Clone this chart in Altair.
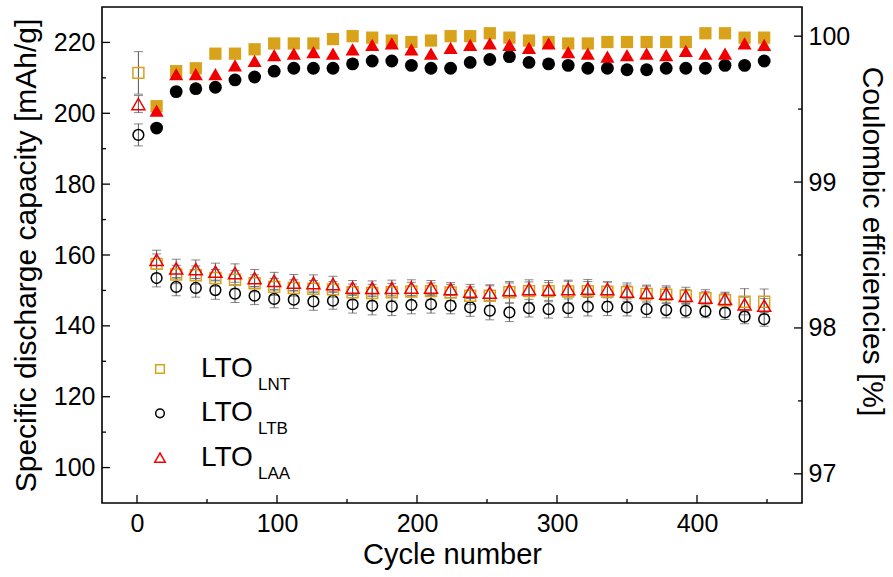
import altair as alt
import pandas as pd

# ---------------- data ----------------
cycles = [14, 28, 42, 56, 70, 84, 98, 112, 126, 140, 154, 168, 182, 196, 210, 224,
          238, 252, 266, 280, 294, 308, 322, 336, 350, 364, 378, 392, 406, 420, 434, 448]
first_cycle = [1]

# capacity (open markers, left axis), first value = cycle 1
cap_lnt = [211.4, 157.5, 154.5, 154.3, 153.5, 153.0, 152.0, 151.0, 150.7, 150.5, 150.3,
           149.5, 149.3, 149.5, 149.7, 149.8, 149.4, 148.5, 148.5, 149.5, 149.8, 149.8,
           149.7, 149.8, 149.6, 149.5, 149.0, 148.8, 148.5, 147.8, 147.2, 146.8, 146.8]
err_lnt = [6.0, 2.8, 2.6, 2.6, 2.4, 2.6, 2.4, 2.4, 2.3, 2.3, 2.2, 2.3, 2.4, 2.5, 2.6, 2.3,
           2.3, 2.5, 2.8, 3.0, 3.2, 3.0, 3.2, 3.3, 2.8, 2.6, 2.5, 2.5, 2.4, 2.4, 2.3, 3.7, 3.6]

cap_ltb = [193.9, 153.5, 151.0, 150.7, 150.1, 149.1, 148.5, 147.6, 147.4, 146.9, 147.1,
           146.1, 145.7, 145.5, 145.9, 146.1, 145.7, 145.2, 144.3, 143.8, 145.0, 144.7,
           145.0, 145.4, 145.4, 145.2, 144.7, 144.45, 144.3, 144.1, 143.8, 142.6, 141.9]
err_ltb = [3.1, 2.5, 2.5, 2.6, 2.6, 2.5, 2.5, 2.5, 2.5, 2.5, 2.4, 2.5, 2.6, 2.6, 2.5, 2.5,
           2.3, 2.5, 2.6, 2.6, 2.5, 2.5, 2.6, 2.6, 2.5, 2.4, 2.3, 2.2, 2.0, 1.8, 2.0, 2.0, 2.0]

cap_laa = [202.6, 158.65, 156.2, 156.0, 155.3, 154.9, 153.5, 152.7, 152.2, 152.1, 151.8,
           150.8, 150.7, 150.7, 150.8, 150.8, 150.4, 149.7, 149.4, 150.1, 150.4, 150.2,
           150.4, 150.5, 150.4, 149.7, 149.4, 149.1, 148.5, 148.0, 147.6, 146.1, 145.7]
err_laa = [2.4, 2.7, 2.6, 2.6, 2.4, 2.6, 2.4, 2.4, 2.3, 2.3, 2.2, 2.0, 2.0, 2.2, 2.2, 2.0,
           1.8, 2.0, 2.2, 2.0, 2.0, 2.0, 2.2, 2.0, 2.0, 1.8, 1.8, 1.8, 1.8, 1.6, 1.6, 2.0, 2.0]

# coulombic efficiency (filled markers, right axis)
ce_lnt = [99.52, 99.76, 99.78, 99.88, 99.88, 99.91, 99.95, 99.95, 99.95, 99.98, 100.00,
          99.99, 99.97, 99.96, 99.97, 100.00, 100.00, 100.02, 99.99, 99.97, 99.96, 99.95,
          99.95, 99.96, 99.96, 99.96, 99.96, 99.96, 100.02, 100.02, 99.99, 99.99]
ce_ltb = [99.37, 99.62, 99.64, 99.65, 99.70, 99.72, 99.76, 99.78, 99.78, 99.78, 99.81,
          99.83, 99.83, 99.80, 99.78, 99.78, 99.82, 99.84, 99.86, 99.82, 99.81, 99.80,
          99.78, 99.78, 99.77, 99.77, 99.78, 99.78, 99.78, 99.80, 99.80, 99.83]
ce_laa = [99.49, 99.74, 99.74, 99.74, 99.80, 99.83, 99.87, 99.88, 99.89, 99.88, 99.91,
          99.94, 99.95, 99.91, 99.88, 99.92, 99.94, 99.95, 99.94, 99.92, 99.95, 99.89,
          99.88, 99.86, 99.87, 99.88, 99.87, 99.90, 99.88, 99.88, 99.95, 99.94]

legend_main = ["LTO", "LTO", "LTO"]
legend_sub = ["LNT", "LTB", "LAA"]

x_major = [0, 100, 200, 300, 400]
x_minor = [50, 150, 250, 350, 450]
cap_major = [100, 120, 140, 160, 180, 200, 220]
cap_minor = [110, 130, 150, 170, 190, 210]
ce_major = [97, 98, 99, 100]
ce_minor = [97.5, 98.5, 99.5]

# ---------------- style ----------------
W, H = 700, 496
FONT = "Liberation Sans"
GOLD = "#D9A21B"
RED = "#F00000"
BLACK = "#000000"
ERR = "#555555"

x_scale = alt.Scale(domain=[-25, 475], nice=False, zero=False)
cap_scale = alt.Scale(domain=[90, 230], nice=False, zero=False)
ce_scale = alt.Scale(domain=[96.8, 100.2], nice=False, zero=False)

common_axis = dict(ticks=False, domain=False, grid=False, labelFontSize=25,
                   labelColor="black", titleColor="black",
                   labelFont=FONT, titleFont=FONT, titleFontWeight="normal")
x_axis = alt.Axis(title="Cycle number", values=x_major, labelPadding=8,
                  titlePadding=4, titleFontSize=29, **common_axis)
cap_axis = alt.Axis(title="Specific discharge capacity [mAh/g]", values=cap_major,
                    labelPadding=7, titlePadding=12, titleFontSize=30, **common_axis)
ce_axis = alt.Axis(title="Coulombic efficiencies [%]", values=ce_major, orient="right",
                   labelPadding=6, titlePadding=7, titleFontSize=30, titleY=234,
                   **common_axis)

X = lambda f: alt.X(f, type="quantitative", scale=x_scale, axis=x_axis)
YC = lambda f: alt.Y(f, type="quantitative", scale=cap_scale, axis=cap_axis)
YE = lambda f: alt.Y(f, type="quantitative", scale=ce_scale, axis=ce_axis)


def cap_df(cap, err):
    return pd.DataFrame({
        "cycle": first_cycle + cycles,
        "cap": cap,
        "lo": [c - e for c, e in zip(cap, err)],
        "hi": [c + e for c, e in zip(cap, err)],
    })


def caps_df(cap, err):
    d = cap_df(cap, err)
    return pd.concat([d[["cycle", "lo"]].rename(columns={"lo": "v"}),
                      d[["cycle", "hi"]].rename(columns={"hi": "v"})])


series = [
    ("LNT", cap_lnt, err_lnt, ce_lnt, "square", GOLD, 120, 150),
    ("LTB", cap_ltb, err_ltb, ce_ltb, "circle", BLACK, 115, 165),
    ("LAA", cap_laa, err_laa, ce_laa, "triangle-up", RED, 170, 200),
]

cap_layers = []
# error bars
for name, cap, err, ce, shp, col, s_open, s_fill in series:
    d = cap_df(cap, err)
    cap_layers.append(alt.Chart(d).mark_rule(color=ERR, strokeWidth=1).encode(
        x=X("cycle"), y=YC("lo"), y2="hi"))
    cap_layers.append(alt.Chart(caps_df(cap, err)).mark_tick(
        color=ERR, orient="horizontal", size=9, thickness=1).encode(
        x=X("cycle"), y=YC("v")))
# open markers
for name, cap, err, ce, shp, col, s_open, s_fill in [series[1], series[0], series[2]]:
    d = cap_df(cap, err)
    cap_layers.append(alt.Chart(d).mark_point(
        shape=shp, filled=False, stroke=col, strokeWidth=1.5, size=s_open, opacity=1).encode(
        x=X("cycle"), y=YC("cap")))

# inward ticks
tick_df = lambda vals: pd.DataFrame({"t": vals})
cap_layers.append(alt.Chart(tick_df(x_major)).mark_rule(color="black", strokeWidth=1.3).encode(
    x=X("t"), y=alt.value(H), y2=alt.value(H - 8)))
cap_layers.append(alt.Chart(tick_df(x_minor)).mark_rule(color="black", strokeWidth=1.3).encode(
    x=X("t"), y=alt.value(H), y2=alt.value(H - 4)))
cap_layers.append(alt.Chart(tick_df(cap_major)).mark_rule(color="black", strokeWidth=1.3).encode(
    y=YC("t"), x=alt.value(0), x2=alt.value(8)))
cap_layers.append(alt.Chart(tick_df(cap_minor)).mark_rule(color="black", strokeWidth=1.3).encode(
    y=YC("t"), x=alt.value(0), x2=alt.value(4)))

# legend (manual, with subscripts)
one = pd.DataFrame({"k": [0]})
for i, (name, cap, err, ce, shp, col, s_open, s_fill) in enumerate(series):
    ry = 362 + i * 44.3
    cap_layers.append(alt.Chart(one).mark_point(
        shape=shp, filled=False, stroke=col, strokeWidth=1.5,
        size=(110 if shp == "triangle-up" else 75), opacity=1).encode(
        x=alt.value(58), y=alt.value(ry)))
    cap_layers.append(alt.Chart(one).mark_text(
        text=legend_main[i], font=FONT, fontSize=28, align="left", baseline="alphabetic",
        color="black").encode(x=alt.value(99), y=alt.value(ry + 8)))
    cap_layers.append(alt.Chart(one).mark_text(
        text=legend_sub[i], font=FONT, fontSize=17, align="left", baseline="alphabetic",
        color="black").encode(x=alt.value(156), y=alt.value(ry + 21)))

cap_layer = alt.layer(*cap_layers)

ce_layers = []
for name, cap, err, ce, shp, col, s_open, s_fill in [series[1], series[0], series[2]]:
    d = pd.DataFrame({"cycle": cycles, "ce": ce})
    ce_layers.append(alt.Chart(d).mark_point(
        shape=shp, filled=True, fill=col, stroke=None, strokeWidth=0, size=s_fill, opacity=1).encode(
        x=X("cycle"), y=YE("ce")))
ce_layers.append(alt.Chart(tick_df(ce_major)).mark_rule(color="black", strokeWidth=1.3).encode(
    y=YE("t"), x=alt.value(W), x2=alt.value(W - 8)))
ce_layers.append(alt.Chart(tick_df(ce_minor)).mark_rule(color="black", strokeWidth=1.3).encode(
    y=YE("t"), x=alt.value(W), x2=alt.value(W - 4)))
ce_layer = alt.layer(*ce_layers)

chart = alt.layer(cap_layer, ce_layer).resolve_scale(y="independent").properties(
    width=W, height=H,
    autosize=alt.AutoSizeParams(type="none"),
    padding={"left": 102, "top": 7, "right": 91, "bottom": 74},
    background="white",
).configure_view(stroke="black", strokeWidth=1.6)

chart.save("out.html", embed_options={"renderer": "svg", "actions": False})
